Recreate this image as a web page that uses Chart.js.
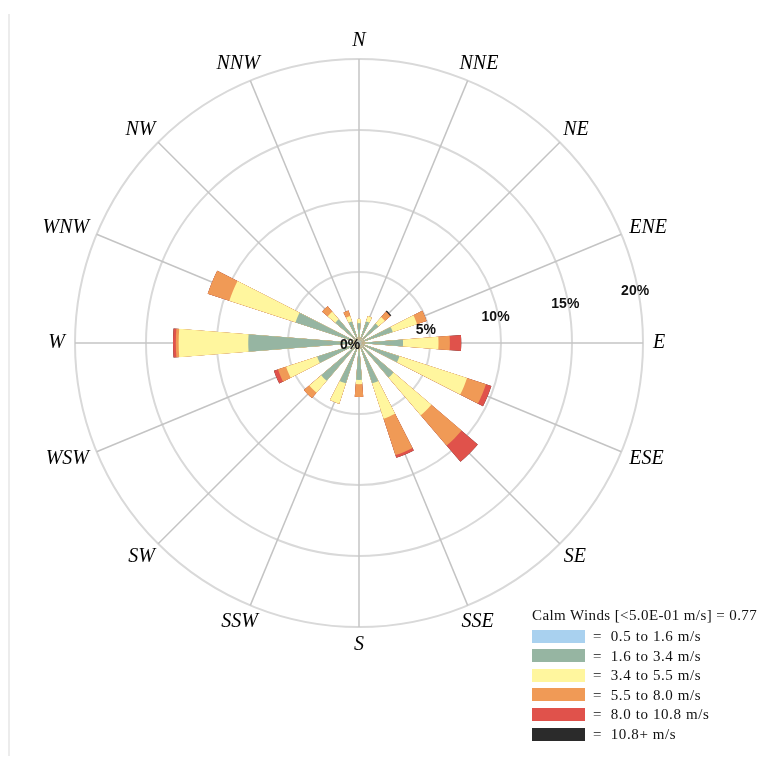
<!DOCTYPE html>
<html>
<head>
<meta charset="utf-8">
<title>Wind Rose</title>
<script src="https://cdn.jsdelivr.net/npm/chart.js@4.4.1/dist/chart.umd.min.js"></script>
<style>
  html, body { margin: 0; padding: 0; background: #fff; }
  #wrap { position: relative; width: 763px; height: 760px; overflow: hidden; background: #fff; }
  #rule { position: absolute; left: 8px; top: 14px; width: 2px; height: 742px; background: #ececec; }
  #rose { position: absolute; left: 0; top: 0; }
  #legend { position: absolute; left: 0; top: 0; width: 763px; height: 760px; pointer-events: none;
            font-family: 'Liberation Serif', 'Times New Roman', serif; color: #111; }
  #legend .title { position: absolute; left: 532px; top: 607px; font-size: 15px; letter-spacing: 0.4px; white-space: pre; }
  #legend .row { position: absolute; left: 532px; height: 14px; display: flex; align-items: center; }
  #legend .swatch { width: 53px; height: 13px; }
  #legend .txt { margin-left: 8px; font-size: 15px; letter-spacing: 0.6px; white-space: pre; line-height: 14px; }
</style>
</head>
<body>
<div id="wrap">
  <div id="rule"></div>
  <canvas id="rose" width="763" height="760"></canvas>
  <div id="legend"></div>
</div>
<script>
// Compass sectors, clockwise from north
const directions = ['N', 'NNE', 'NE', 'ENE', 'E', 'ESE', 'SE', 'SSE', 'S', 'SSW', 'SW', 'WSW', 'W', 'WNW', 'NW', 'NNW'];

// Wind speed classes and their colours
const speedBins = ['0.5 to 1.6 m/s', '1.6 to 3.4 m/s', '3.4 to 5.5 m/s', '5.5 to 8.0 m/s', '8.0 to 10.8 m/s', '10.8+ m/s'];
const binColors = ['#a9d1ef', '#96b5a2', '#fff69e', '#f09a56', '#e0524b', '#2b2b2b'];

// Frequency of occurrence (%) per direction, one list per speed class
const freq05to16  = [0.2, 0.2, 0.2, 0.2, 0.2, 0.2, 0.2, 0.2, 0.2, 0.2, 0.2, 0.2, 0.3, 0.2, 0.2, 0.2];
const freq16to34  = [1.2, 1.4, 1.6, 2.3, 2.9, 2.8, 3.0, 2.8, 2.4, 2.8, 3.3, 2.9, 7.5, 4.5, 2.0, 1.4];
const freq34to55  = [0.3, 0.4, 0.6, 1.8, 2.5, 5.0, 3.5, 2.6, 0.3, 1.5, 1.1, 2.3, 4.9, 4.9, 0.7, 0.4];
const freq55to80  = [0.0, 0.0, 0.5, 0.7, 0.8, 1.4, 2.8, 2.7, 0.9, 0.0, 0.5, 0.6, 0.2, 1.6, 0.5, 0.4];
const freq80to108 = [0.0, 0.0, 0.0, 0.0, 0.8, 0.4, 1.5, 0.2, 0.0, 0.0, 0.0, 0.3, 0.2, 0.0, 0.0, 0.0];
const freq108plus = [0.0, 0.0, 0.1, 0.0, 0.0, 0.0, 0.0, 0.0, 0.0, 0.0, 0.0, 0.0, 0.0, 0.0, 0.0, 0.0];

// Radial axis
const percentTicks = [0, 5, 10, 15, 20];
const calmLabel = 'Calm Winds [<5.0E-01 m/s] = 0.77';

// ---- build stacked petals ----
const binSeries = [freq05to16, freq16to34, freq34to55, freq55to80, freq80to108, freq108plus];
const cumulative = [];
binSeries.forEach((series, k) => {
  cumulative.push(series.map((v, d) => v + (k > 0 ? cumulative[k - 1][d] : 0)));
});

// Each petal covers a narrow arc centred on its compass point; the rest of the
// sector is an empty spacer. The north petal is split across the start angle.
const sector = 360 / directions.length;
const petalWidth = 9;
const slots = [{ dir: 0, angle: petalWidth / 2 }];
for (let d = 1; d < directions.length; d++) {
  slots.push({ dir: null, angle: sector - petalWidth });
  slots.push({ dir: d, angle: petalWidth });
}
slots.push({ dir: null, angle: sector - petalWidth });
slots.push({ dir: 0, angle: petalWidth / 2 });

const datasets = cumulative.map((cum, k) => ({
  label: speedBins[k],
  data: slots.map(s => (s.dir === null ? 0 : cum[s.dir])),
  backgroundColor: binColors[k],
  borderWidth: 0,
  angle: ctx => slots[ctx.dataIndex].angle
}));

// ---- text drawn on the rose ----
const roseText = {
  id: 'roseText',
  afterDatasetsDraw(chart) {
    const r = chart.scales.r;
    const ctx = chart.ctx;
    ctx.save();
    ctx.fillStyle = '#111';
    ctx.textAlign = 'center';
    ctx.textBaseline = 'middle';
    ctx.font = 'bold 14px "Liberation Sans", Arial, sans-serif';
    const a = 79.3 * Math.PI / 180;
    percentTicks.forEach(v => {
      if (v === 0) {
        ctx.fillText('0%', r.xCenter - 9, r.yCenter + 2);
        return;
      }
      const dist = r.getDistanceFromCenterForValue(v) - 3;
      ctx.fillText(v + '%', r.xCenter + dist * Math.sin(a), r.yCenter - dist * Math.cos(a));
    });

    ctx.fillStyle = '#000';
    ctx.font = 'italic 20px "Liberation Serif", "Times New Roman", serif';
    directions.forEach((name, i) => {
      const p = r.getPointPosition(i, r.drawingArea + 10);
      const w = ctx.measureText(name).width;
      const h = 16;
      const x = p.x + Math.cos(p.angle) * w / 2;
      const y = p.y + Math.sin(p.angle) * h / 2;
      ctx.fillText(name, x, y);
    });
    ctx.restore();
  }
};

new Chart(document.getElementById('rose'), {
  type: 'polarArea',
  data: { labels: directions, datasets },
  options: {
    responsive: false,
    animation: false,
    devicePixelRatio: 1,
    layout: { padding: { left: 75, right: 120, top: 59, bottom: 133 } },
    plugins: { legend: { display: false }, tooltip: { enabled: false } },
    scales: {
      r: {
        min: percentTicks[0],
        max: percentTicks[percentTicks.length - 1],
        startAngle: 0,
        ticks: { stepSize: 5, display: false },
        grid: { circular: true, color: '#d9d9d9', lineWidth: 2 },
        angleLines: { display: true, color: '#c4c4c4', lineWidth: 1.5 },
        pointLabels: { display: false, centerPointLabels: false }
      }
    }
  },
  plugins: [roseText]
});

// ---- legend ----
const legend = document.getElementById('legend');
const title = document.createElement('div');
title.className = 'title';
title.textContent = calmLabel;
legend.appendChild(title);
speedBins.forEach((label, k) => {
  const row = document.createElement('div');
  row.className = 'row';
  row.style.top = (629 + k * 19.6) + 'px';
  const sw = document.createElement('div');
  sw.className = 'swatch';
  sw.style.background = binColors[k];
  const txt = document.createElement('div');
  txt.className = 'txt';
  txt.textContent = '=  ' + label;
  row.appendChild(sw);
  row.appendChild(txt);
  legend.appendChild(row);
});
</script>
</body>
</html>
